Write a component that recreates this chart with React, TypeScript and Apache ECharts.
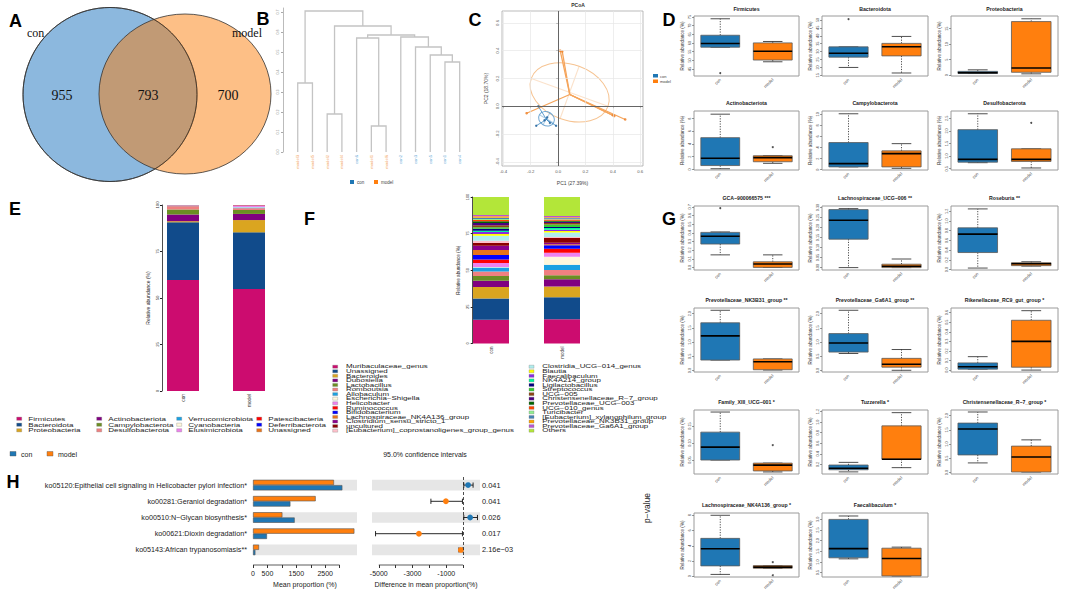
import React, { useEffect, useRef } from "react";
import * as echarts from "echarts";

const FONT = "'Liberation Sans', Arial, Helvetica, sans-serif";
const SERIF = "'Liberation Serif', 'Times New Roman', Times, serif";
const CON = "#1f77b4";
const MODEL = "#ff7f0e";
const groups = ["con", "model"];

// ---------- A: Venn
const vennSetNames = ["con", "model"];
const vennCounts = [955, 793, 700];

// ---------- B: dendrogram
const leafLabels = ["model3", "model5", "model2", "model4", "con6", "model1", "model6", "con2", "con3", "con5", "con1", "con4"];
// [leftX, leftHeight, rightX, rightHeight, mergeHeight]
const dendroMerges = [
  [1, 0, 2, 0, 0.345],
  [3, 0, 4, 0, 0.19],
  [6, 0, 7, 0, 0.13],
  [5, 0, 6.5, 0.13, 0.57],
  [11, 0, 12, 0, 0.45],
  [10, 0, 11.5, 0.45, 0.485],
  [9, 0, 10.75, 0.485, 0.525],
  [8, 0, 9.875, 0.525, 0.575],
  [5.75, 0.57, 8.94, 0.575, 0.585],
  [3.5, 0.19, 7.34, 0.585, 0.63],
  [1.5, 0.345, 5.42, 0.63, 0.705],
];
const dendroTicks = [0, 0.1, 0.2, 0.3, 0.4, 0.5, 0.6, 0.7];

// ---------- C: PCoA
const pcoaConPts = [[-0.16, -0.14], [-0.015, -0.14], [-0.145, 0.0], [-0.08, -0.08], [-0.06, -0.12], [-0.1, -0.1]];
const pcoaModelPts = [[0.015, 0.4], [0.03, 0.395], [-0.23, -0.05], [0.41, -0.07], [0.49, -0.095], [0.4, -0.065]];
const pcoaConCentroid = [-0.085, -0.095];
const pcoaModelCentroid = [0.085, 0.085];
// [cx, cy, semiA, semiB, angleDeg]
const pcoaConEllipse = [-0.085, -0.09, 0.06, 0.05, -30];
const pcoaModelEllipse = [0.084, 0.1, 0.298, 0.2, -20];
const pcoaXTicks = [-0.4, -0.2, 0, 0.2, 0.4, 0.6];
const pcoaYTicks = [-0.4, -0.2, 0, 0.2, 0.4, 0.6];

// ---------- D & G: box plots
const boxTitles = [
  "Firmicutes", "Bacteroidota", "Proteobacteria", "Actinobacteriota", "Campylobacterota", "Desulfobacterota",
  "GCA−900066575 ***", "Lachnospiraceae_UCG−006 **", "Roseburia **",
  "Prevotellaceae_NK3B31_group **", "Prevotellaceae_Ga6A1_group **", "Rikenellaceae_RC9_gut_group *",
  "Family_XIII_UCG−001 *", "Tuzzerella *", "Christensenellaceae_R−7_group *",
  "Lachnospiraceae_NK4A136_group *", "Faecalibaculum *",
];
// [min, Q1, median, Q3, max]
const boxConStats = [
  [57.6, 57.6, 59.7, 64.5, 74.0],
  [20, 26.5, 29, 33, 33],
  [0.5, 0.5, 0.75, 1.2, 1.7],
  [0.1, 0.6, 1.75, 5.0, 8.7],
  [0.5, 0.5, 1.1, 4.9, 10.1],
  [0.74, 0.76, 0.87, 2.05, 2.68],
  [0.145, 0.27, 0.36, 0.405, 0.41],
  [0.0, 0.142, 0.237, 0.29, 0.295],
  [0.03, 0.35, 0.73, 0.86, 1.25],
  [0.37, 0.37, 1.22, 1.68, 2.12],
  [0.6, 0.65, 0.97, 1.3, 2.12],
  [0.01, 0.01, 0.035, 0.075, 0.14],
  [0.05, 0.05, 0.088, 0.132, 0.191],
  [0.06, 0.1, 0.13, 0.19, 0.24],
  [0.34, 0.62, 1.53, 1.74, 2.13],
  [0.24, 1.36, 3.6, 4.97, 8.0],
  [1.15, 1.2, 1.63, 3.0, 3.16],
];
const boxModelStats = [
  [49.2, 50.2, 55.3, 60.1, 60.9],
  [16.5, 27.3, 33.1, 35.2, 39.6],
  [0.4, 0.9, 2.3, 17.3, 18.2],
  [0.95, 1.2, 1.85, 2.15, 2.15],
  [0.24, 0.5, 2.9, 3.4, 4.7],
  [0.53, 0.79, 0.87, 1.29, 1.29],
  [0.0, 0.0, 0.04, 0.065, 0.145],
  [0.0, 0.0, 0.007, 0.017, 0.043],
  [0.07, 0.08, 0.12, 0.14, 0.16],
  [0.02, 0.03, 0.31, 0.41, 0.41],
  [0.01, 0.12, 0.22, 0.43, 0.74],
  [0.0, 0.03, 0.3, 0.52, 0.62],
  [0.015, 0.018, 0.035, 0.041, 0.041],
  [0.14, 0.3, 0.3, 0.93, 1.18],
  [0.02, 0.02, 0.55, 0.93, 1.15],
  [1.05, 1.05, 1.2, 1.4, 1.4],
  [0.35, 0.35, 1.17, 1.65, 1.7],
];
const boxConOutliers = [[42.7], [50.5], [], [], [], [], [0.685], [], [], [], [], [], [], [], [], [], []];
const boxModelOutliers = [[], [], [], [3.5], [], [2.32], [], [], [], [], [], [], [0.094], [], [], [1.84, 0.13], []];
const boxYRange = [
  [41, 75.6], [14.6, 52.5], [-0.3, 19.1], [-0.1, 9.2], [-0.06, 10.6], [0.45, 2.79],
  [-0.03, 0.71], [-0.012, 0.308], [-0.01, 1.31], [-0.05, 2.2], [-0.05, 2.2], [-0.02, 0.648],
  [0.009, 0.197], [0.02, 1.23], [-0.05, 2.2], [-0.1, 8.3], [0.3, 3.3],
];
const boxYTicks = [
  [45, 50, 55, 60, 65, 70, 75],
  [15, 20, 25, 30, 35, 40, 45, 50],
  [0, 5, 10, 15],
  [0, 2, 4, 6, 8],
  [0, 2, 4, 6, 8, 10],
  [0.5, 1.0, 1.5, 2.0, 2.5],
  [0, 0.1, 0.2, 0.3, 0.4, 0.5, 0.6, 0.7],
  [0, 0.05, 0.1, 0.15, 0.2, 0.25, 0.3],
  [0, 0.2, 0.4, 0.6, 0.8, 1.0, 1.2],
  [0, 0.5, 1.0, 1.5, 2.0],
  [0, 0.5, 1.0, 1.5, 2.0],
  [0, 0.1, 0.2, 0.3, 0.4, 0.5, 0.6],
  [0.05, 0.1, 0.15],
  [0.2, 0.4, 0.6, 0.8, 1.0, 1.2],
  [0, 0.5, 1.0, 1.5, 2.0],
  [0, 2, 4, 6, 8],
  [0.5, 1.0, 1.5, 2.0, 2.5, 3.0],
];

// ---------- E: phylum stacked bars
const phylumNames = ["Firmicutes", "Bacteroidota", "Proteobacteria", "Actinobacteriota", "Campylobacterota", "Desulfobacterota", "Verrucomicrobiota", "Cyanobacteria", "Elusimicrobiota", "Patescibacteria", "Deferribacterota", "Unassigned"];
const phylumCon = [59.7, 31.0, 0.6, 3.6, 2.7, 1.8, 0.2, 0.1, 0.1, 0.1, 0.05, 0.05];
const phylumModel = [54.8, 30.5, 6.6, 3.3, 2.1, 1.0, 0.4, 0.2, 0.7, 0.2, 0.1, 0.1];
const phylumColors = ["#cc0c6f", "#114b8b", "#daa520", "#800080", "#6b8e23", "#f08080", "#1ba1e2", "#fff8dc", "#ee82ee", "#ff0000", "#0000ff", "#e8731a"];
const eTicks = [0, 25, 50, 75, 100];

// ---------- F: genus stacked bars
const genusNames = [
  "Muribaculaceae_genus", "Unassigned", "Bacteroides", "Dubosiella", "Lactobacillus", "Romboutsia", "Allobaculum",
  "Escherichia−Shigella", "Helicobacter", "Ruminococcus", "Bifidobacterium", "Lachnospiraceae_NK4A136_group",
  "Clostridium_sensu_stricto_1", "uncultured", "[Eubacterium]_coprostanoligenes_group_genus",
  "Clostridia_UCG−014_genus", "Blautia", "Faecalibaculum", "NK4A214_group", "Ligilactobacillus", "Streptococcus",
  "UCG−005", "Christensenellaceae_R−7_group", "Prevotellaceae_UCG−003", "UCG−010_genus", "Turicibacter",
  "[Eubacterium]_xylanophilum_group", "Prevotellaceae_NK3B31_group", "Prevotellaceae_Ga6A1_group", "Others",
];
const genusCon = [16.2, 14.6, 7.7, 4.3, 3.2, 3.2, 2.7, 0.3, 2.7, 2.5, 3.0, 3.4, 3.0, 1.8, 1.6, 3.4, 1.1, 1.4, 0.9, 1.4, 0.9, 1.4, 1.6, 1.1, 0.9, 0.7, 0.9, 0.9, 0.9, 12.3];
const genusModel = [16.6, 15.0, 7.3, 5.0, 2.7, 3.6, 3.6, 5.5, 2.7, 2.7, 2.3, 0.7, 1.1, 3.2, 0.7, 3.0, 1.1, 0.9, 1.1, 0.7, 1.8, 0.9, 0.9, 0.7, 0.9, 0.5, 0.5, 0.5, 0.9, 12.9];
const genusColors = [
  "#cc0c6f", "#114b8b", "#daa520", "#800080", "#6b8e23", "#f08080", "#1ba1e2", "#fff8dc", "#ee82ee", "#ff0000",
  "#0000ff", "#e8731a", "#8b008b", "#8b0000", "#ffc0cb", "#afeeee", "#ffff00", "#8a2be2", "#00fa9a", "#000080",
  "#32cd32", "#8b4513", "#4b0082", "#006400", "#ff4500", "#90ee90", "#4682b4", "#ffa500", "#ba55d3", "#b3e639",
];

// ---------- H: STAMP
const hPathways = [
  "ko05120:Epithelial cell signaling in Helicobacter pylori infection*",
  "ko00281:Geraniol degradation*",
  "ko00510:N−Glycan biosynthesis*",
  "ko00621:Dioxin degradation*",
  "ko05143:African trypanosomiasis**",
];
const hModelMean = [2803, 2170, 1017, 3509, 208];
const hConMean = [3093, 1294, 1443, 484, 83];
const hDiff = [295, -1020, 415, -2620, -135];
const hLo = [40, -1910, 40, -5190, -250];
const hHi = [590, -40, 850, -40, -20];
const hPvalues = ["0.041", "0.041", "0.026", "0.017", "2.16e−03"];
const hMeanTicks = [0, 500, 1000, 1500, 2000, 2500, 3000];
const hMeanLabels = [0, 500, 1500, 2500];
const hDiffTicks = [-5000, -4000, -3000, -2000, -1000, 0];
const hDiffLabels = [-5000, -3000, -1000];
const hShadedRows = [0, 2, 4];

// ---------- layout constants
const dColsX = [[694, 799], [822, 928], [951, 1058]];
const dRowsY = [[16, 76], [111, 170]];
const gRowsY = [[206, 270], [308, 372], [410, 474], [513, 577]];
const H_AXIS_OFFSET = 7;

function boxFrame(i: number) {
  if (i < 6) {
    const c = dColsX[i % 3];
    const r = dRowsY[Math.floor(i / 3)];
    return [c[0], r[0], c[1], r[1]];
  }
  const j = i - 6;
  const c = dColsX[j % 3];
  const r = gRowsY[Math.floor(j / 3)];
  return [c[0], r[0], c[1], r[1]];
}

function fmtFor(ticks: number[]) {
  let dec = 0;
  ticks.forEach((t) => {
    const s = String(t);
    const i = s.indexOf(".");
    if (i >= 0) dec = Math.max(dec, s.length - i - 1);
  });
  return (v: number) => Number(v).toFixed(dec);
}

const boxRender = (params: any, api: any) => {
  const cat = api.value(0);
  const vals = [1, 2, 3, 4, 5].map((k) => api.value(k));
  const ys = vals.map((v) => api.coord([cat, v])[1]);
  const cx = api.coord([cat, vals[2]])[0];
  const band = api.size([1, 0])[0];
  const w = band * 0.74;
  const fill = cat === 0 ? CON : MODEL;
  const dash = { stroke: "#222", lineWidth: 0.8, lineDash: [1.2, 1.4] };
  const solid = { stroke: "#222", lineWidth: 0.8 };
  return {
    type: "group",
    children: [
      { type: "line", shape: { x1: cx, y1: ys[3], x2: cx, y2: ys[4] }, style: dash },
      { type: "line", shape: { x1: cx, y1: ys[1], x2: cx, y2: ys[0] }, style: dash },
      { type: "line", shape: { x1: cx - w / 4, y1: ys[4], x2: cx + w / 4, y2: ys[4] }, style: solid },
      { type: "line", shape: { x1: cx - w / 4, y1: ys[0], x2: cx + w / 4, y2: ys[0] }, style: solid },
      { type: "rect", shape: { x: cx - w / 2, y: ys[3], width: w, height: Math.max(ys[1] - ys[3], 0.6) }, style: { fill, stroke: "#5a5a5a", lineWidth: 0.8 } },
      { type: "line", shape: { x1: cx - w / 2, y1: ys[2], x2: cx + w / 2, y2: ys[2] }, style: { stroke: "#000", lineWidth: 1.6 } },
    ],
  };
};

const dendroRender = (params: any, api: any) => {
  const x1 = api.value(0), h1 = api.value(1), x2 = api.value(2), h2 = api.value(3), h = api.value(4);
  const pts = [api.coord([x1, h1]), api.coord([x1, h]), api.coord([x2, h]), api.coord([x2, h2])];
  return { type: "polyline", shape: { points: pts }, style: { stroke: "#c4c4c4", lineWidth: 1.3, fill: null } };
};

const spiderRender = (color: string, width: number) => (params: any, api: any) => {
  const a = api.coord([api.value(0), api.value(1)]);
  const b = api.coord([api.value(2), api.value(3)]);
  return { type: "line", shape: { x1: a[0], y1: a[1], x2: b[0], y2: b[1] }, style: { stroke: color, lineWidth: width } };
};

const ellipseRender = (color: string, axisColor: string) => (params: any, api: any) => {
  const c = api.coord([api.value(0), api.value(1)]);
  const rx = api.size([api.value(2), 0])[0];
  const ry = api.size([0, api.value(3)])[1];
  const ang = (api.value(4) * Math.PI) / 180;
  return {
    type: "group",
    x: c[0],
    y: c[1],
    rotation: ang,
    children: [
      { type: "line", shape: { x1: -rx, y1: 0, x2: rx, y2: 0 }, style: { stroke: axisColor, lineWidth: 1.1 } },
      { type: "line", shape: { x1: 0, y1: -ry, x2: 0, y2: ry }, style: { stroke: axisColor, lineWidth: 1.1 } },
      { type: "ellipse", shape: { cx: 0, cy: 0, rx, ry }, style: { stroke: color, lineWidth: 1, fill: null } },
    ],
  };
};

const shadeRender = (params: any, api: any) => {
  const cs = params.coordSys;
  const yc = api.coord([0, api.value(1)])[1];
  const h = api.size([0, 1])[1] * 0.66;
  return { type: "rect", shape: { x: cs.x, y: yc - h / 2, width: cs.width, height: h }, style: { fill: "#e6e6e6" } };
};

// axis line spanning only the tick range (as in the original STAMP plot)
const axisSpanRender = (params: any, api: any) => {
  const cs = params.coordSys;
  const a = api.coord([api.value(0), api.value(2)])[0];
  const b = api.coord([api.value(1), api.value(2)])[0];
  const y = cs.y + cs.height + H_AXIS_OFFSET;
  return { type: "line", shape: { x1: a, y1: y, x2: b, y2: y }, style: { stroke: "#333", lineWidth: 0.8 } };
};

const ciRender = (params: any, api: any) => {
  const row = api.value(1);
  const pD = api.coord([api.value(0), row]);
  const pL = api.coord([api.value(2), row]);
  const pH = api.coord([api.value(3), row]);
  const col = api.value(0) > 0 ? CON : MODEL;
  const st = { stroke: "#111", lineWidth: 0.9 };
  return {
    type: "group",
    children: [
      { type: "line", shape: { x1: pL[0], y1: pL[1], x2: pH[0], y2: pH[1] }, style: st },
      { type: "line", shape: { x1: pL[0], y1: pL[1] - 2.6, x2: pL[0], y2: pL[1] + 2.6 }, style: st },
      { type: "line", shape: { x1: pH[0], y1: pH[1] - 2.6, x2: pH[0], y2: pH[1] + 2.6 }, style: st },
      { type: "circle", shape: { cx: pD[0], cy: pD[1], r: 2.9 }, style: { fill: col } },
    ],
  };
};

function txt(x: number, y: number, text: string, size: number, extra: any = {}, elExtra: any = {}) {
  return {
    type: "text",
    x,
    y,
    ...elExtra,
    style: { text, fontSize: size, fontFamily: FONT, fill: "#222", align: "left", verticalAlign: "middle", ...extra },
  };
}

function stackedPanel(
  grid: any[], xAxis: any[], yAxis: any[], series: any[],
  box: { left: number; width: number; top: number; height: number; axisOffset: number; barWidth: number; lf: number; nf: number; tf: number },
  names: string[], conVals: number[], modelVals: number[], colors: string[], stackId: string,
) {
  const gi = grid.length;
  grid.push({ left: box.left, top: box.top, width: box.width, height: box.height });
  xAxis.push({
    gridIndex: gi, type: "category", data: groups, boundaryGap: true,
    axisLine: { show: false }, axisTick: { show: false }, splitLine: { show: false },
    axisLabel: { rotate: 90, fontSize: box.lf, color: "#333", margin: 3, interval: 0 },
  });
  yAxis.push({
    gridIndex: gi, type: "value", min: 0, max: 100, offset: box.axisOffset,
    axisLine: { show: true, lineStyle: { color: "#222", width: 0.8 } },
    axisTick: { show: true, customValues: eTicks, length: 2, lineStyle: { color: "#222" } },
    axisLabel: { customValues: eTicks, rotate: 90, fontSize: box.tf, color: "#333", margin: 3 },
    splitLine: { show: false },
    name: "Relative abundance (%)", nameLocation: "middle", nameGap: 12, nameRotate: 90, nameTextStyle: { fontSize: box.nf, color: "#222" },
  });
  names.forEach((n, k) => {
    series.push({
      type: "bar", name: n, xAxisIndex: gi, yAxisIndex: gi, stack: stackId, barWidth: box.barWidth, silent: true,
      data: [conVals[k], modelVals[k]], itemStyle: { color: colors[k] },
    });
  });
}

function buildOption() {
  const grid: any[] = [];
  const xAxis: any[] = [];
  const yAxis: any[] = [];
  const series: any[] = [];
  const graphic: any[] = [];

  // ===== A: Venn
  graphic.push({ type: "circle", shape: { cx: 110, cy: 94.5, r: 87 }, style: { fill: "#8cb8de", stroke: "#333", lineWidth: 0.8 } });
  graphic.push({ type: "ellipse", shape: { cx: 185, cy: 94, rx: 86, ry: 80 }, style: { fill: "rgba(251,122,3,0.48)", stroke: "#333", lineWidth: 0.8 } });
  graphic.push({ type: "circle", shape: { cx: 110, cy: 94.5, r: 87 }, style: { fill: null, stroke: "#333", lineWidth: 0.8 } });
  const vennX = [62, 148, 228];
  vennCounts.forEach((n, i) => graphic.push(txt(vennX[i], 95, String(n), 14, { fontFamily: SERIF, align: "center", fill: "#111" })));
  graphic.push(txt(27, 33, vennSetNames[0], 12, { fontFamily: SERIF, fill: "#111" }));
  graphic.push(txt(232, 33, vennSetNames[1], 12, { fontFamily: SERIF, fill: "#111" }));

  // panel letters
  const letters: [string, number, number][] = [
    ["A", 15.5, 20.5], ["B", 263, 19], ["C", 475, 19.5], ["D", 669, 19.5],
    ["E", 15, 208.5], ["F", 309.5, 219], ["G", 669, 219], ["H", 13, 482],
  ];
  letters.forEach(([l, x, y]) => graphic.push(txt(x, y, l, 18, { fontWeight: "bold", align: "center", fill: "#000" })));

  // ===== B: dendrogram (grid 0)
  grid.push({ left: 283, top: 8, width: 187, height: 144 });
  xAxis.push({
    gridIndex: 0, type: "value", min: 0, max: 12.7,
    axisLine: { show: false }, axisTick: { show: false }, splitLine: { show: false },
    axisLabel: {
      customValues: leafLabels.map((_, i) => i + 1), rotate: 90, margin: 3,
      formatter: (v: number) => {
        const l = leafLabels[Math.round(v) - 1] || "";
        return `{${l.startsWith("con") ? "c" : "m"}|${l}}`;
      },
      rich: { c: { color: "#6aaad6", fontSize: 4.2 }, m: { color: "#f3a968", fontSize: 4.2 } },
    },
  });
  yAxis.push({
    gridIndex: 0, type: "value", min: 0, max: 0.72,
    axisLine: { show: true, lineStyle: { color: "#aaa", width: 0.8 } },
    axisTick: { show: true, customValues: dendroTicks, length: 2, lineStyle: { color: "#aaa" } },
    axisLabel: { customValues: dendroTicks, rotate: 90, fontSize: 3.6, color: "#888", margin: 3, formatter: fmtFor(dendroTicks) },
    splitLine: { show: false },
  });
  series.push({ type: "custom", xAxisIndex: 0, yAxisIndex: 0, data: dendroMerges, renderItem: dendroRender, encode: { x: [0, 2], y: [1, 3, 4] }, silent: true });
  graphic.push({ type: "rect", shape: { x: 350, y: 180, width: 4, height: 4 }, style: { fill: CON } });
  graphic.push(txt(357, 182, "con", 4.5, { fill: "#444" }));
  graphic.push({ type: "rect", shape: { x: 374, y: 180, width: 4, height: 4 }, style: { fill: MODEL } });
  graphic.push(txt(381, 182, "model", 4.5, { fill: "#444" }));

  // ===== C: PCoA (grid 1)
  grid.push({ left: 502, top: 11, width: 141, height: 155, show: true, borderColor: "#aaa", borderWidth: 0.8 });
  xAxis.push({
    gridIndex: 1, type: "value", min: -0.41, max: 0.62,
    axisLine: { show: false }, splitLine: { show: false },
    axisTick: { show: true, customValues: pcoaXTicks, length: 2, lineStyle: { color: "#666" } },
    axisLabel: { customValues: pcoaXTicks, fontSize: 4.3, color: "#555", margin: 3, formatter: fmtFor(pcoaXTicks) },
    name: "PC1 (27.39%)", nameLocation: "middle", nameGap: 14, nameTextStyle: { fontSize: 5, color: "#444" },
  });
  yAxis.push({
    gridIndex: 1, type: "value", min: -0.43, max: 0.686,
    axisLine: { show: false }, splitLine: { show: false },
    axisTick: { show: true, customValues: pcoaYTicks, length: 2, lineStyle: { color: "#666" } },
    axisLabel: { customValues: pcoaYTicks, rotate: 90, fontSize: 4.3, color: "#555", margin: 3, formatter: fmtFor(pcoaYTicks) },
    name: "PC2 (18.70%)", nameLocation: "middle", nameGap: 14, nameRotate: 90, nameTextStyle: { fontSize: 5, color: "#444" },
  });
  series.push({
    type: "scatter", xAxisIndex: 1, yAxisIndex: 1, data: [], silent: true,
    markLine: {
      silent: true, symbol: ["none", "none"], label: { show: false }, animation: false,
      lineStyle: { color: "#e6e6e6", width: 0.7, type: "solid" },
      data: [...pcoaXTicks.map((v) => ({ xAxis: v })), ...pcoaYTicks.map((v) => ({ yAxis: v }))],
    },
  });
  series.push({
    type: "scatter", xAxisIndex: 1, yAxisIndex: 1, data: [], silent: true,
    markLine: {
      silent: true, symbol: ["none", "none"], label: { show: false }, animation: false,
      lineStyle: { color: "#555", width: 0.9, type: "solid" },
      data: [{ xAxis: 0 }, { yAxis: 0 }],
    },
  });
  series.push({ type: "custom", xAxisIndex: 1, yAxisIndex: 1, data: [pcoaModelEllipse], renderItem: ellipseRender("#f6c391", "rgba(246,190,140,0.45)"), silent: true });
  series.push({ type: "custom", xAxisIndex: 1, yAxisIndex: 1, data: [pcoaConEllipse], renderItem: ellipseRender("#6fa6d2", "rgba(100,160,210,0.5)"), silent: true });
  series.push({ type: "custom", xAxisIndex: 1, yAxisIndex: 1, data: pcoaModelPts.map((p) => [pcoaModelCentroid[0], pcoaModelCentroid[1], p[0], p[1]]), renderItem: spiderRender("#f5a55c", 1.3), silent: true });
  series.push({ type: "custom", xAxisIndex: 1, yAxisIndex: 1, data: pcoaConPts.map((p) => [pcoaConCentroid[0], pcoaConCentroid[1], p[0], p[1]]), renderItem: spiderRender("#3c88c2", 0.8), silent: true });
  series.push({ type: "scatter", xAxisIndex: 1, yAxisIndex: 1, data: pcoaModelPts, symbolSize: 2.6, itemStyle: { color: "#ee7d22" }, silent: true });
  series.push({ type: "scatter", xAxisIndex: 1, yAxisIndex: 1, data: pcoaConPts, symbolSize: 2.4, itemStyle: { color: "#1d5f99" }, silent: true });
  graphic.push(txt(578, 5, "PCoA", 5, { fontWeight: "bold", align: "center", fill: "#333" }));
  graphic.push({ type: "rect", shape: { x: 653, y: 74, width: 5, height: 3.5 }, style: { fill: CON } });
  graphic.push(txt(660, 76, "con", 4, { fill: "#444" }));
  graphic.push({ type: "rect", shape: { x: 653, y: 79.5, width: 5, height: 3.5 }, style: { fill: MODEL } });
  graphic.push(txt(660, 81.5, "model", 4, { fill: "#444" }));

  // ===== D & G: box plots (grids 2..18)
  boxTitles.forEach((title, i) => {
    const gi = grid.length;
    const [l, t, r, b] = boxFrame(i);
    grid.push({ left: l, top: t, width: r - l, height: b - t, show: true, borderColor: "#9a9a9a", borderWidth: 1, backgroundColor: "#fff" });
    xAxis.push({
      gridIndex: gi, type: "category", data: groups, boundaryGap: true,
      axisLine: { show: false }, axisTick: { show: false },
      axisLabel: { rotate: 45, fontSize: 4.3, color: "#444", margin: 3, interval: 0 },
    });
    const ticks = boxYTicks[i];
    yAxis.push({
      gridIndex: gi, type: "value", min: boxYRange[i][0], max: boxYRange[i][1],
      axisLine: { show: false }, splitLine: { show: false },
      axisTick: { show: true, customValues: ticks, length: 2, lineStyle: { color: "#555", width: 0.6 } },
      axisLabel: { customValues: ticks, rotate: 90, fontSize: 3.8, color: "#444", margin: 2.5, formatter: fmtFor(ticks) },
      name: "Relative abundance (%)", nameLocation: "middle", nameGap: 9, nameRotate: 90,
      nameTextStyle: { fontSize: 4.6, color: "#333" },
    });
    series.push({
      type: "custom", xAxisIndex: gi, yAxisIndex: gi, renderItem: boxRender, silent: true,
      encode: { x: 0, y: [1, 2, 3, 4, 5] },
      data: [[0, ...boxConStats[i]], [1, ...boxModelStats[i]]],
    });
    const outs = [...boxConOutliers[i].map((v) => [0, v]), ...boxModelOutliers[i].map((v) => [1, v])];
    series.push({ type: "scatter", xAxisIndex: gi, yAxisIndex: gi, data: outs, symbolSize: 2, itemStyle: { color: "#222" }, silent: true });
    const ty = i < 3 ? t - 7 : t - 8;
    graphic.push(txt((l + r) / 2, ty, title, 5.2, { fontWeight: "bold", align: "center", fill: "#222" }));
  });

  // ===== E: phylum (grid 19)
  stackedPanel(grid, xAxis, yAxis, series,
    { left: 150, width: 132, top: 205, height: 186, axisOffset: -12, barWidth: 32, lf: 4.8, nf: 5, tf: 4.2 },
    phylumNames, phylumCon, phylumModel, phylumColors, "phylum");
  {
    const colX = [16.7, 96.7, 176.7, 256.7];
    const rowY = [418.7, 424.7, 430.3];
    phylumNames.forEach((n, k) => {
      const c = Math.floor(k / 3), r = k % 3;
      graphic.push({ type: "rect", shape: { x: colX[c], y: rowY[r] - 1.6, width: 5, height: 3.2 }, style: { fill: phylumColors[k], stroke: "#777", lineWidth: 0.3 } });
      graphic.push(txt(colX[c] + 11.6, rowY[r], n, 5.2, { fill: "#222" }, { scaleX: 1.55 }));
    });
  }

  // ===== F: genus (grid 20)
  stackedPanel(grid, xAxis, yAxis, series,
    { left: 455.5, width: 142, top: 197, height: 146.5, axisOffset: -17.2, barWidth: 36, lf: 4.5, nf: 4.6, tf: 4 },
    genusNames, genusCon, genusModel, genusColors, "genus");
  {
    const colX = [332.7, 529];
    genusNames.forEach((n, k) => {
      const c = Math.floor(k / 15), r = k % 15;
      const y = 366.7 + r * 4.57;
      graphic.push({ type: "rect", shape: { x: colX[c], y: y - 1.5, width: 5, height: 3 }, style: { fill: genusColors[k], stroke: "#777", lineWidth: 0.3 } });
      graphic.push(txt(colX[c] + 13.3, y, n, 4.6, { fill: "#222" }, { scaleX: 1.72 }));
    });
  }

  // ===== H: STAMP (grids 21, 22)
  {
    const gL = grid.length;
    grid.push({ left: 253, top: 477, width: 104, height: 81 });
    xAxis.push({
      gridIndex: gL, type: "value", min: 0, max: 3600, offset: H_AXIS_OFFSET,
      axisLine: { show: false },
      axisTick: { show: true, customValues: hMeanTicks, length: 3, lineStyle: { color: "#333" } },
      axisLabel: { customValues: hMeanLabels, formatter: (v: number) => String(v), fontSize: 7, color: "#222", margin: 5 },
      splitLine: { show: false },
      name: "Mean proportion (%)", nameLocation: "middle", nameGap: 16, nameTextStyle: { fontSize: 7, color: "#222" },
    });
    yAxis.push({
      gridIndex: gL, type: "category", data: hPathways, inverse: true,
      axisLine: { show: false }, axisTick: { show: false }, splitLine: { show: false },
      axisLabel: { fontSize: 7.2, color: "#222", margin: 6 },
    });
    series.push({ type: "custom", xAxisIndex: gL, yAxisIndex: gL, data: hShadedRows.map((r) => [0, r]), encode: { x: 0, y: 1 }, renderItem: shadeRender, silent: true, z: 0 });
    series.push({ type: "custom", xAxisIndex: gL, yAxisIndex: gL, data: [[hMeanTicks[0], hMeanTicks[hMeanTicks.length - 1], 0]], encode: { x: [0, 1], y: 2 }, renderItem: axisSpanRender, silent: true, clip: false, z: 0 });
    series.push({ type: "bar", name: "model", xAxisIndex: gL, yAxisIndex: gL, data: hModelMean, barWidth: 5.3, barGap: "0%", silent: true, z: 2, itemStyle: { color: MODEL, borderColor: "#555", borderWidth: 0.6 } });
    series.push({ type: "bar", name: "con", xAxisIndex: gL, yAxisIndex: gL, data: hConMean, barWidth: 5.3, barGap: "0%", silent: true, z: 2, itemStyle: { color: CON, borderColor: "#555", borderWidth: 0.6 } });

    const gR = grid.length;
    grid.push({ left: 372, top: 477, width: 108, height: 81 });
    xAxis.push({
      gridIndex: gR, type: "value", min: -5400, max: 1000, offset: H_AXIS_OFFSET,
      axisLine: { show: false },
      axisTick: { show: true, customValues: hDiffTicks, length: 3, lineStyle: { color: "#333" } },
      axisLabel: { customValues: hDiffLabels, formatter: (v: number) => String(v), fontSize: 7, color: "#222", margin: 5 },
      splitLine: { show: false },
      name: "Difference in mean proportion(%)", nameLocation: "middle", nameGap: 16, nameTextStyle: { fontSize: 7, color: "#222" },
    });
    yAxis.push({
      gridIndex: gR, type: "category", data: hPvalues, inverse: true, position: "right",
      axisLine: { show: false }, axisTick: { show: false }, splitLine: { show: false },
      axisLabel: { fontSize: 7.4, color: "#222", margin: 2 },
    });
    series.push({ type: "custom", xAxisIndex: gR, yAxisIndex: gR, data: hShadedRows.map((r) => [0, r]), encode: { x: 0, y: 1 }, renderItem: shadeRender, silent: true, z: 0 });
    series.push({ type: "custom", xAxisIndex: gR, yAxisIndex: gR, data: [[hDiffTicks[0], hDiffTicks[hDiffTicks.length - 1], 0]], encode: { x: [0, 1], y: 2 }, renderItem: axisSpanRender, silent: true, clip: false, z: 0 });
    series.push({
      type: "custom", xAxisIndex: gR, yAxisIndex: gR, silent: true, z: 3,
      data: hDiff.map((d, i) => [d, i, hLo[i], hHi[i]]), encode: { x: [0, 2, 3], y: 1 }, renderItem: ciRender,
      markLine: {
        silent: true, symbol: ["none", "none"], label: { show: false }, animation: false,
        lineStyle: { color: "#222", width: 0.8, type: [3, 2] }, data: [{ xAxis: 0 }],
      },
    });

    graphic.push({ type: "rect", shape: { x: 10, y: 451.5, width: 6, height: 4.5 }, style: { fill: CON, stroke: "#555", lineWidth: 0.4 } });
    graphic.push(txt(21, 454, "con", 7, { fill: "#222" }));
    graphic.push({ type: "rect", shape: { x: 47, y: 451.5, width: 6, height: 4.5 }, style: { fill: MODEL, stroke: "#555", lineWidth: 0.4 } });
    graphic.push(txt(58, 454, "model", 7, { fill: "#222" }));
    graphic.push(txt(425, 454, "95.0% confidence intervals", 7, { align: "center", fill: "#222" }));
    graphic.push(txt(647, 508, "p−value", 8.5, { align: "center", fill: "#222" }, { rotation: Math.PI / 2 }));
  }

  return {
    animation: false,
    backgroundColor: "#fff",
    textStyle: { fontFamily: FONT },
    grid,
    xAxis,
    yAxis,
    series,
    graphic: { elements: graphic },
  };
}

export default function App() {
  const ref = useRef<HTMLDivElement>(null);
  useEffect(() => {
    if (!ref.current) return;
    const chart = echarts.init(ref.current, undefined, { renderer: "svg" });
    chart.setOption(buildOption() as any);
    return () => chart.dispose();
  }, []);
  return <div ref={ref} style={{ position: "absolute", left: 0, top: 0, width: 1065, height: 600, background: "#fff" }} />;
}
